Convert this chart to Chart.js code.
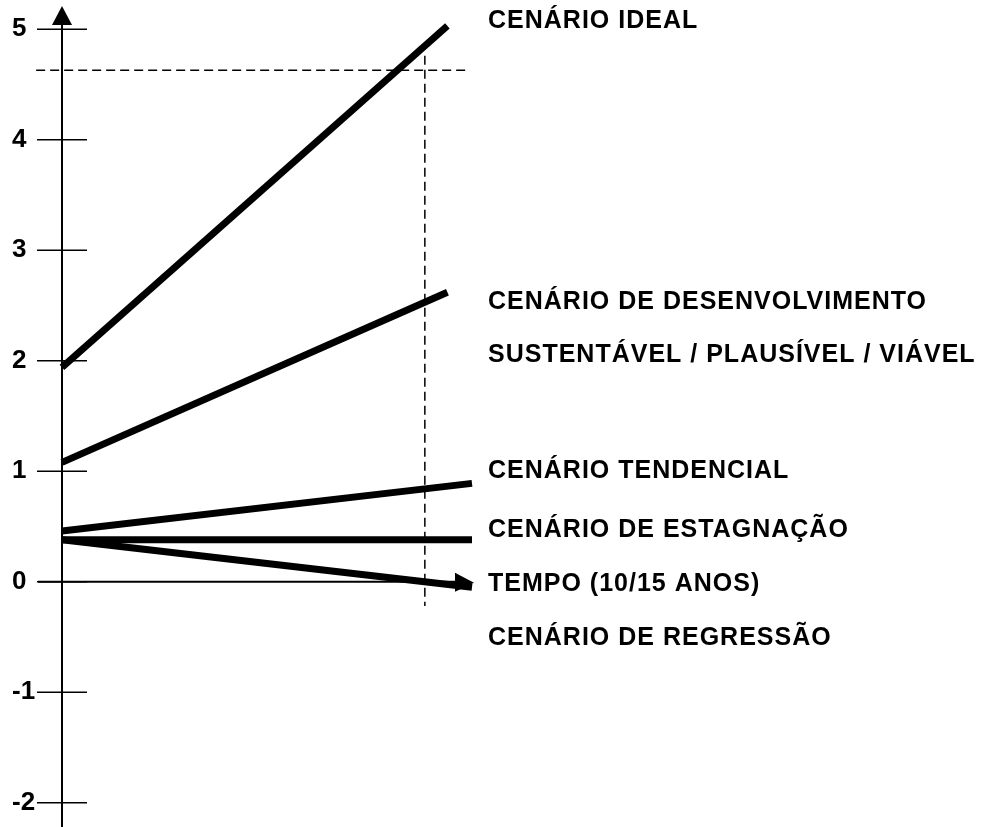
<!DOCTYPE html>
<html>
<head>
<meta charset="utf-8">
<script src="https://cdn.jsdelivr.net/npm/chart.js@4.4.1/dist/chart.umd.min.js"></script>
<style>
  html, body { margin: 0; padding: 0; background: #fff; }
  #wrap { width: 986px; height: 827px; position: relative; }
</style>
</head>
<body>
<div id="wrap"><canvas id="chart"></canvas></div>
<script>
// scenario values at the start and at the end of the horizon
const scenarioNames = ['Ideal', 'Desenvolvimento sustentável', 'Tendencial', 'Estagnação', 'Regressão'];
const startValues = [1.94, 1.08, 0.46, 0.38, 0.38];
const endValues = [5.03, 2.62, 0.89, 0.38, -0.05];
const endTimes = [9.4, 9.4, 10, 10, 10];
const yTickValues = [-2, -1, 0, 1, 2, 3, 4, 5];
const labelTexts = [
    'CENÁRIO IDEAL',
    'CENÁRIO DE DESENVOLVIMENTO',
    'SUSTENTÁVEL / PLAUSÍVEL / VIÁVEL',
    'CENÁRIO TENDENCIAL',
    'CENÁRIO DE ESTAGNAÇÃO',
    'TEMPO (10/15 ANOS)',
    'CENÁRIO DE REGRESSÃO'
];
// dashed guides
const refLevel = 4.63;
const refLevelSpan = [-0.63, 9.95];
const refTime = 8.85;
const refTimeSpan = [-0.22, 4.76];
const timeMax = 10;

const fontFamily = "'Liberation Sans', Arial, sans-serif";

const scenarioSets = scenarioNames.map((name, i) => ({
    label: name,
    data: [{ x: 0, y: startValues[i] }, { x: endTimes[i], y: endValues[i] }],
    showLine: true,
    borderColor: '#000',
    borderWidth: 7,
    pointRadius: 0,
    clip: false
}));

const guideSets = [
    {
        label: 'guide-h',
        data: [{ x: refLevelSpan[0], y: refLevel }, { x: refLevelSpan[1], y: refLevel }],
        showLine: true, borderColor: '#000', borderWidth: 1.5, borderDash: [9, 5],
        pointRadius: 0, clip: false
    },
    {
        label: 'guide-v',
        data: [{ x: refTime, y: refTimeSpan[1] }, { x: refTime, y: refTimeSpan[0] }],
        showLine: true, borderColor: '#000', borderWidth: 1.5, borderDash: [9, 5],
        pointRadius: 0, clip: false
    }
];

const axesPlugin = {
    id: 'axesAndLabels',
    afterDatasetsDraw(chart) {
        const ctx = chart.ctx;
        const xs = chart.scales.x, ys = chart.scales.y;
        const area = chart.chartArea;
        const x0 = xs.getPixelForValue(0);
        const y0 = ys.getPixelForValue(0);
        ctx.save();
        ctx.strokeStyle = '#000';
        ctx.fillStyle = '#000';
        ctx.lineWidth = 2;

        // vertical axis with arrow
        const tipY = area.top + 1;
        ctx.beginPath();
        ctx.moveTo(x0, chart.height);
        ctx.lineTo(x0, tipY + 10);
        ctx.stroke();
        ctx.beginPath();
        ctx.moveTo(x0, tipY);
        ctx.lineTo(x0 - 10, tipY + 19);
        ctx.lineTo(x0 + 10, tipY + 19);
        ctx.closePath();
        ctx.fill();

        // tick marks crossing the axis
        ctx.lineWidth = 1.5;
        yTickValues.forEach(v => {
            const y = ys.getPixelForValue(v);
            ctx.beginPath();
            ctx.moveTo(x0 - 25, y);
            ctx.lineTo(x0 + 25, y);
            ctx.stroke();
        });

        // time axis with arrow
        const xEnd = xs.getPixelForValue(timeMax) + 2;
        ctx.lineWidth = 2;
        ctx.beginPath();
        ctx.moveTo(x0 - 24, y0);
        ctx.lineTo(xEnd - 10, y0);
        ctx.stroke();
        ctx.beginPath();
        ctx.moveTo(xEnd, y0 + 1);
        ctx.lineTo(xEnd - 19, y0 - 9);
        ctx.lineTo(xEnd - 19, y0 + 10);
        ctx.closePath();
        ctx.fill();

        // scenario labels on the right
        const labelBaselines = [28, 309, 362, 478, 537, 591, 645];
        ctx.font = 'bold 25px ' + fontFamily;
        if ('letterSpacing' in ctx) ctx.letterSpacing = '1px';
        ctx.textAlign = 'left';
        ctx.textBaseline = 'alphabetic';
        labelTexts.forEach((t, i) => {
            ctx.fillText(t, area.right + 16, labelBaselines[i]);
        });
        ctx.restore();
    }
};

new Chart(document.getElementById('chart'), {
    type: 'scatter',
    data: { datasets: scenarioSets.concat(guideSets) },
    options: {
        responsive: true,
        maintainAspectRatio: false,
        animation: false,
        layout: { padding: { left: 12, top: 5, right: 514, bottom: 0 } },
        plugins: {
            legend: { display: false },
            tooltip: { enabled: false }
        },
        scales: {
            x: { type: 'linear', min: 0, max: timeMax, display: false },
            y: {
                min: -2.22,
                max: 5.22,
                afterBuildTicks: s => { s.ticks = yTickValues.map(v => ({ value: v })); },
                afterFit: s => {
                    s.width = 50;
                    s.paddingTop = 0;
                    s.paddingBottom = 0;
                },
                grid: { display: false, drawTicks: false },
                border: { display: false },
                ticks: {
                    color: '#000',
                    crossAlign: 'far',
                    padding: 0,
                    font: { family: fontFamily, size: 26, weight: 'bold' }
                }
            }
        }
    },
    plugins: [axesPlugin]
});
</script>
</body>
</html>
